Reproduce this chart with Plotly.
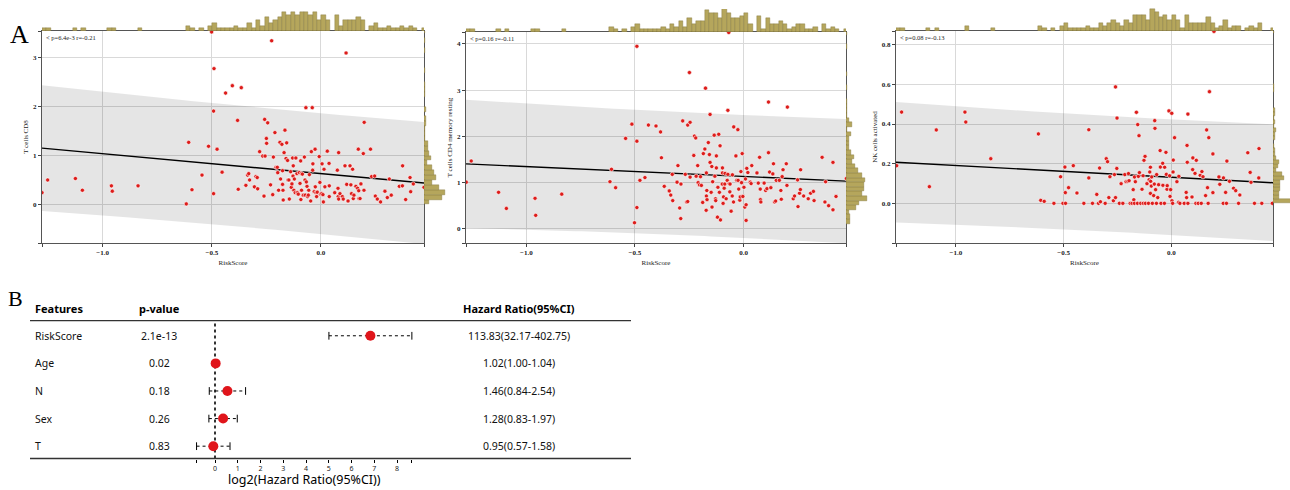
import numpy as np
import plotly.graph_objects as go

W, H = 1290, 490

# ---------------- data ----------------
cd8_risk = [-1.278, -1.252, -1.125, -1.093, -0.960, -0.956, -0.838, -0.617, -0.606, -0.591,
            -0.545, -0.515, -0.501, -0.490, -0.492, -0.492, -0.476, -0.453, -0.437, -0.406,
            -0.382, -0.379, -0.365, -0.344, -0.336, -0.331, -0.327, -0.305, -0.298, -0.292,
            -0.290, -0.281, -0.267, -0.261, -0.258, -0.256, -0.250, -0.249, -0.244, -0.231,
            -0.226, -0.218, -0.221, -0.211, -0.206, -0.200, -0.198, -0.194, -0.188, -0.185,
            -0.179, -0.176, -0.176, -0.174, -0.173, -0.169, -0.165, -0.160, -0.157, -0.153,
            -0.151, -0.147, -0.145, -0.139, -0.136, -0.133, -0.130, -0.128, -0.127, -0.124,
            -0.122, -0.118, -0.115, -0.110, -0.108, -0.104, -0.099, -0.096, -0.093, -0.092,
            -0.090, -0.089, -0.085, -0.081, -0.076, -0.073, -0.072, -0.069, -0.067, -0.064,
            -0.061, -0.058, -0.056, -0.053, -0.047, -0.044, -0.040, -0.038, -0.037, -0.031,
            -0.027, -0.026, -0.023, -0.020, -0.017, -0.008, -0.005, -0.002, 0.003, 0.005,
            0.009, 0.011, 0.014, 0.018, 0.029, 0.037, 0.038, 0.038, 0.063, 0.075,
            0.078, 0.079, 0.081, 0.081, 0.087, 0.098, 0.102, 0.110, 0.115, 0.118,
            0.124, 0.133, 0.137, 0.140, 0.145, 0.148, 0.151, 0.160, 0.168, 0.171,
            0.173, 0.174, 0.179, 0.183, 0.194, 0.198, 0.197, 0.227, 0.232, 0.246,
            0.249, 0.258, 0.273, 0.293, 0.304, 0.313, 0.322, 0.359, 0.373, 0.374,
            0.388, 0.408, 0.411, 0.423, 0.472]
cd8_value = [0.24, 0.50, 0.53, 0.29, 0.38, 0.27, 0.38, 0.01, 1.27, 0.30,
             0.60, 1.19, 3.53, 2.78, 1.91, 0.22, 1.13, 0.66, 2.28, 2.43,
             1.72, 0.31, 2.39, 0.39, 0.60, 0.63, 0.50, 0.36, 0.57, 0.55,
             0.32, 1.08, 0.99, 0.17, 1.74, 0.99, 1.35, 1.25, 1.67, 0.40,
             3.35, 0.97, 0.20, 1.47, 0.76, 0.76, 0.65, 0.29, 1.27, 0.52,
             1.23, 0.41, 0.69, 0.29, 0.09, 1.06, 1.52, 0.94, 1.26, 0.90,
             0.50, 0.50, 0.11, 0.67, 0.35, 0.42, 0.95, 0.58, 0.79, 0.29,
             0.52, 0.24, 0.95, 0.63, 0.24, 0.21, 0.65, 0.43, 0.89, 0.10,
             0.63, 0.29, 0.62, 0.19, 0.97, 0.50, 0.19, 1.98, 0.46, 0.37,
             0.16, 0.19, 0.29, 0.61, 0.07, 1.08, 1.98, 0.70, 0.83, 0.26,
             1.13, 0.36, 0.24, 0.16, 0.25, 0.98, 0.45, 0.21, 0.22, 0.83,
             0.20, 0.05, 0.72, 0.36, 1.09, 0.84, 0.38, 0.16, 0.24, 0.70,
             0.33, 0.16, 1.06, 0.11, 0.22, 0.16, 0.11, 0.79, 3.10, 0.41,
             0.07, 0.79, 0.40, 0.22, 0.72, 0.12, 0.19, 0.37, 0.33, 1.13,
             0.28, 0.12, 0.12, 0.42, 1.04, 1.68, 0.29, 1.13, 0.57, 0.58,
             0.17, 0.11, 0.05, 0.27, 0.14, 0.52, 0.19, 0.37, 0.38, 0.79,
             0.10, 0.55, 0.26, 0.42, 0.35]

cd4_risk = [-1.277, -1.254, -1.128, -1.092, -0.960, -0.957, -0.837, -0.615, -0.608, -0.589,
            -0.543, -0.514, -0.502, -0.491, -0.491, -0.491, -0.477, -0.454, -0.438, -0.403,
            -0.382, -0.378, -0.365, -0.342, -0.335, -0.328, -0.326, -0.306, -0.302, -0.294,
            -0.289, -0.288, -0.280, -0.268, -0.262, -0.257, -0.257, -0.249, -0.246, -0.246,
            -0.229, -0.226, -0.220, -0.218, -0.211, -0.209, -0.203, -0.198, -0.194, -0.188,
            -0.185, -0.178, -0.175, -0.172, -0.171, -0.171, -0.169, -0.168, -0.162, -0.157,
            -0.154, -0.154, -0.149, -0.146, -0.145, -0.142, -0.135, -0.132, -0.129, -0.128,
            -0.125, -0.125, -0.120, -0.118, -0.114, -0.111, -0.108, -0.106, -0.098, -0.097,
            -0.097, -0.094, -0.092, -0.089, -0.086, -0.085, -0.080, -0.075, -0.072, -0.072,
            -0.068, -0.066, -0.063, -0.062, -0.057, -0.052, -0.051, -0.046, -0.045, -0.035,
            -0.031, -0.026, -0.025, -0.022, -0.017, -0.015, -0.012, -0.009, -0.006, -0.003,
            0.002, 0.006, 0.009, 0.012, 0.012, 0.015, 0.020, 0.031, 0.035, 0.038,
            0.062, 0.068, 0.074, 0.077, 0.078, 0.080, 0.095, 0.102, 0.108, 0.115,
            0.115, 0.120, 0.126, 0.135, 0.138, 0.143, 0.148, 0.151, 0.165, 0.172,
            0.174, 0.178, 0.182, 0.197, 0.200, 0.202, 0.229, 0.235, 0.249, 0.251,
            0.258, 0.263, 0.262, 0.277, 0.298, 0.309, 0.322, 0.325, 0.362, 0.375,
            0.378, 0.392, 0.412, 0.412, 0.426, 0.474]
cd4_value = [1.00, 1.46, 0.78, 0.43, 0.65, 0.28, 0.74, 1.01, 1.28, 0.88,
             1.95, 2.26, 0.12, 3.95, 1.89, 0.45, 1.04, 1.10, 2.24, 2.22,
             2.09, 1.53, 0.91, 0.81, 0.72, 1.17, 0.60, 1.00, 1.36, 0.44,
             0.21, 0.96, 2.33, 1.17, 0.57, 2.24, 0.58, 3.38, 2.30, 1.11,
             1.58, 2.00, 1.96, 1.13, 1.36, 0.99, 0.94, 1.12, 0.93, 0.56,
             1.62, 1.72, 3.04, 0.39, 1.20, 0.70, 0.82, 0.62, 1.86, 1.60,
             2.47, 1.43, 0.78, 1.34, 0.46, 1.01, 2.02, 1.13, 0.64, 0.60,
             1.31, 1.57, 0.24, 0.89, 2.04, 0.78, 1.79, 0.18, 0.96, 1.20,
             1.31, 0.54, 0.68, 0.87, 0.96, 1.19, 0.64, 1.04, 1.17, 2.56,
             4.25, 0.97, 0.79, 0.96, 0.37, 0.70, 1.16, 0.57, 2.20, 1.57,
             1.04, 2.14, 1.04, 0.85, 0.61, 0.68, 1.23, 0.99, 1.62, 0.69,
             0.89, 0.46, 1.07, 0.51, 0.17, 1.30, 1.21, 1.00, 0.97, 1.36,
             1.20, 0.98, 1.54, 0.85, 0.62, 0.57, 0.98, 0.82, 0.86, 2.74,
             1.64, 1.22, 0.88, 1.18, 1.40, 0.57, 0.59, 1.04, 1.04, 0.82,
             0.63, 1.12, 1.27, 1.40, 0.93, 2.63, 0.64, 0.70, 1.05, 0.47,
             0.76, 1.27, 0.84, 0.70, 0.64, 0.76, 0.80, 0.60, 1.54, 0.57,
             1.01, 0.49, 1.43, 0.40, 0.69, 1.08]

nk_risk = [-1.275, -1.252, -1.123, -1.091, -0.958, -0.954, -0.838, -0.617, -0.606, -0.590,
           -0.545, -0.514, -0.503, -0.494, -0.492, -0.491, -0.477, -0.455, -0.438, -0.406,
           -0.383, -0.383, -0.366, -0.346, -0.338, -0.333, -0.329, -0.307, -0.302, -0.296,
           -0.290, -0.285, -0.269, -0.264, -0.259, -0.259, -0.253, -0.252, -0.241, -0.233,
           -0.225, -0.216, -0.210, -0.202, -0.199, -0.196, -0.191, -0.182, -0.177, -0.174,
           -0.171, -0.171, -0.167, -0.162, -0.157, -0.156, -0.153, -0.150, -0.148, -0.142,
           -0.136, -0.131, -0.130, -0.127, -0.122, -0.120, -0.113, -0.106, -0.103, -0.100,
           -0.097, -0.097, -0.096, -0.093, -0.091, -0.088, -0.082, -0.079, -0.077, -0.076,
           -0.073, -0.069, -0.068, -0.063, -0.059, -0.052, -0.051, -0.048, -0.040, -0.039,
           -0.032, -0.031, -0.025, -0.023, -0.020, -0.019, -0.011, -0.008, -0.006, -0.003,
           0.002, 0.003, 0.006, 0.008, 0.009, 0.015, 0.026, 0.034, 0.035, 0.040,
           0.060, 0.069, 0.071, 0.073, 0.074, 0.077, 0.077, 0.096, 0.099, 0.100,
           0.110, 0.114, 0.116, 0.125, 0.134, 0.139, 0.142, 0.147, 0.159, 0.164,
           0.168, 0.171, 0.174, 0.177, 0.193, 0.193, 0.198, 0.221, 0.225, 0.241,
           0.242, 0.252, 0.256, 0.258, 0.270, 0.289, 0.299, 0.312, 0.318, 0.355,
           0.366, 0.370, 0.386, 0.406, 0.407, 0.420, 0.469]
nk_value = [0.190, 0.460, 0.084, 0.370, 0.460, 0.410, 0.225, 0.350, 0.015, 0.010,
            0.000, 0.134, 0.000, 0.183, 0.054, 0.000, 0.079, 0.190, 0.052, 0.000,
            0.371, 0.128, 0.000, 0.045, 0.000, 0.178, 0.008, 0.000, 0.225, 0.210,
            0.029, 0.134, 0.013, 0.145, 0.587, 0.029, 0.176, 0.430, 0.000, 0.099,
            0.000, 0.145, 0.109, 0.111, 0.150, 0.114, 0.000, 0.000, 0.069, 0.018,
            0.000, 0.133, 0.109, 0.459, 0.000, 0.397, 0.136, 0.341, 0.155, 0.000,
            0.071, 0.139, 0.000, 0.217, 0.237, 0.000, 0.099, 0.000, 0.119, 0.158,
            0.182, 0.050, 0.111, 0.087, 0.133, 0.000, 0.039, 0.097, 0.417, 0.378,
            0.069, 0.000, 0.145, 0.029, 0.094, 0.266, 0.183, 0.000, 0.202, 0.091,
            0.000, 0.182, 0.257, 0.146, 0.071, 0.089, 0.466, 0.139, 0.035, 0.069,
            0.454, 0.013, 0.000, 0.158, 0.218, 0.331, 0.109, 0.005, 0.136, 0.000,
            0.000, 0.055, 0.029, 0.292, 0.207, 0.000, 0.450, 0.032, 0.170, 0.229,
            0.151, 0.000, 0.217, 0.000, 0.141, 0.000, 0.160, 0.134, 0.039, 0.370,
            0.079, 0.000, 0.331, 0.563, 0.249, 0.054, 0.867, 0.133, 0.096, 0.000,
            0.128, 0.055, 0.000, 0.213, 0.111, 0.076, 0.064, 0.000, 0.042, 0.255,
            0.156, 0.106, 0.000, 0.128, 0.276, 0.000, 0.000]

cell_types = ["T cells CD8", "T cells CD4 memory resting", "NK cells activated"]
cor_labels = ["< p=6.4e-3 r=-0.21", "< p=0.16 r=-0.11", "< p=0.08 r=-0.13"]
x_ticks = [-1.0, -0.5, 0.0]
y_ticks = [[0, 1, 2, 3], [0, 1, 2, 3, 4], [0.0, 0.2, 0.4, 0.6, 0.8]]

features = ["RiskScore", "Age", "N", "Sex", "T"]
p_values = ["2.1e-13", "0.02", "0.18", "0.26", "0.83"]
hazard_ratio = [113.83, 1.02, 1.46, 1.28, 0.95]
hr_lower = [32.17, 1.00, 0.84, 0.83, 0.57]
hr_upper = [402.75, 1.04, 2.54, 1.97, 1.58]
forest_ticks = [0, 1, 2, 3, 4, 5, 6, 7, 8]
forest_headers = ["Features", "p-value", "Hazard Ratio(95%CI)"]

# ---------------- layout helpers ----------------
def px(xp):
    return xp / W


def py(yp):
    return 1 - yp / H


SERIF = "Liberation Serif"
SANS = "Noto Sans"
HIST_FILL = "#b5a65c"
HIST_LINE = "#80733a"
POINT = "#dd1c1a"

series = [(cd8_risk, cd8_value), (cd4_risk, cd4_value), (nk_risk, nk_value)]
panels = [
    dict(x0=42, x1=424, y0=31, y1=243, yr=[-0.79, 3.55], ybin=0.1, rh_dom=24, rh_max=22, yfmt=None),
    dict(x0=466, x1=846, y0=32, y1=243, yr=[-0.32, 4.26], ybin=0.1, rh_dom=24, rh_max=22, yfmt=None),
    dict(x0=896, x1=1273, y0=31, y1=243, yr=[-0.20, 0.869], ybin=0.02, rh_dom=17, rh_max=34, yfmt=".1f"),
]
XR = [-1.278, 0.472]
XBIN = 0.02

fig = go.Figure()
layout = dict(width=W, height=H, margin=dict(l=0, r=0, t=0, b=0),
              paper_bgcolor="white", plot_bgcolor="white", showlegend=False)
annotations = []
shapes = []

for i, (p, (xs, ys), name, lab, yt) in enumerate(zip(panels, series, cell_types, cor_labels, y_ticks)):
    xs = np.asarray(xs, float)
    ys = np.asarray(ys, float)
    a_main, a_top, a_right = 3 * i + 1, 3 * i + 2, 3 * i + 3

    # regression and 95% prediction band
    n = len(xs)
    b1, b0 = np.polyfit(xs, ys, 1)
    resid = ys - (b0 + b1 * xs)
    s = np.sqrt(np.sum(resid ** 2) / (n - 2))
    xbar = xs.mean()
    sxx = np.sum((xs - xbar) ** 2)
    xg = np.linspace(XR[0], XR[1], 60)
    yhat = b0 + b1 * xg
    half = 1.975 * s * np.sqrt(1 + 1 / n + (xg - xbar) ** 2 / sxx)
    up, lo = yhat + half, yhat - half

    xa, ya = f"x{a_main}", f"y{a_main}"
    fig.add_trace(go.Scatter(x=np.concatenate([xg, xg[::-1]]), y=np.concatenate([up, lo[::-1]]),
                             fill="toself", fillcolor="rgba(0,0,0,0.10)", line=dict(width=0),
                             mode="lines", hoverinfo="skip", xaxis=xa, yaxis=ya))
    fig.add_trace(go.Scatter(x=xg, y=yhat, mode="lines", line=dict(color="black", width=1.4),
                             xaxis=xa, yaxis=ya))
    fig.add_trace(go.Scatter(x=xs, y=ys, mode="markers",
                             marker=dict(color=POINT, size=4.2, line=dict(color="white", width=0.6)),
                             xaxis=xa, yaxis=ya))

    # top histogram (risk score)
    edges = np.arange(XR[0], XR[1] + XBIN, XBIN)
    cnt, _ = np.histogram(xs, bins=edges)
    top_dom_px = 23
    fig.add_trace(go.Histogram(x=xs, xbins=dict(start=XR[0], end=XR[1] + XBIN, size=XBIN),
                               marker=dict(color=HIST_FILL, line=dict(color=HIST_LINE, width=0.4)),
                               xaxis=f"x{a_top}", yaxis=f"y{a_top}"))
    # right histogram (cell value)
    yedges = np.arange(0, ys.max() + p["ybin"], p["ybin"])
    ycnt, _ = np.histogram(ys, bins=yedges)
    fig.add_trace(go.Histogram(y=ys, ybins=dict(start=0, end=ys.max() + p["ybin"], size=p["ybin"]),
                               marker=dict(color=HIST_FILL, line=dict(color=HIST_LINE, width=0.4)),
                               xaxis=f"x{a_right}", yaxis=f"y{a_right}"))

    xdom = [px(p["x0"]), px(p["x1"])]
    ydom = [py(p["y1"]), py(p["y0"])]
    tickfont = dict(family=SERIF, size=7, color="#222", weight="bold")
    sfx = "" if a_main == 1 else str(a_main)
    layout[f"xaxis{sfx}"] = dict(
        domain=xdom, range=XR, anchor=ya, showgrid=True, gridcolor="#d9d9d9", gridwidth=1,
        zeroline=False, showline=True, mirror=True, linecolor="#555", linewidth=1,
        tickvals=[XR[0]] + x_ticks + [XR[1]], ticktext=[""] + [f"{v:.1f}".replace("-", "\u2212") for v in x_ticks] + [""],
        ticks="outside", ticklen=3, tickcolor="#444", tickfont=tickfont,
        title=dict(text="RiskScore", font=dict(family=SERIF, size=7, color="#222"), standoff=3))
    ytext = [(f"{v:{p['yfmt']}}" if p["yfmt"] else str(v)) for v in yt]
    layout[f"yaxis{sfx}"] = dict(
        domain=ydom, range=p["yr"], anchor=xa, showgrid=True, gridcolor="#d9d9d9", gridwidth=1,
        zeroline=False, showline=True, mirror=True, linecolor="#555", linewidth=1,
        tickvals=[p["yr"][0]] + list(yt) + [p["yr"][1]], ticktext=[""] + ytext + [""],
        ticks="outside", ticklen=3, tickcolor="#444", tickfont=tickfont,
        title=dict(text=name, font=dict(family=SERIF, size=7, color="#222"), standoff=3))
    # top hist axes
    layout[f"xaxis{a_top}"] = dict(domain=xdom, range=XR, anchor=f"y{a_top}", visible=False)
    layout[f"yaxis{a_top}"] = dict(domain=[py(p["y0"]), py(p["y0"] - top_dom_px)],
                                   range=[0, cnt.max() * top_dom_px / 22.0], anchor=f"x{a_top}", visible=False)
    # right hist axes
    rx1 = min(p["x1"] + p["rh_dom"], W)
    layout[f"xaxis{a_right}"] = dict(domain=[px(p["x1"]), px(rx1)],
                                     range=[0, ycnt.max() * (rx1 - p["x1"]) / p["rh_max"]],
                                     anchor=f"y{a_right}", visible=False)
    layout[f"yaxis{a_right}"] = dict(domain=ydom, range=p["yr"], anchor=f"x{a_right}", visible=False)

    annotations.append(dict(text=lab, x=px(p["x0"] + 2), y=py(p["y0"] + 6), xref="paper", yref="paper",
                            xanchor="left", yanchor="middle", showarrow=False,
                            font=dict(family=SERIF, size=6.5, color="#222")))

# ---------------- forest plot ----------------
log_hr = np.log2(hazard_ratio)
log_lo = np.log2(hr_lower)
log_hi = np.log2(hr_upper)
rows = np.arange(len(features), 0, -1)  # 5..1

unit = 22.75
zero_px = 215
fx0, fx1 = 180, 420
f_xr = [(fx0 - zero_px) / unit, (fx1 - zero_px) / unit]
f_ytop, f_ybot = 320.7, 458.5
row_px = 28.0
f_yr = [1 - (f_ybot - 446) / row_px, 5 + (336 - f_ytop) / row_px]

# zero line
fig.add_trace(go.Scatter(x=[0, 0], y=f_yr, mode="lines", line=dict(color="black", width=1.6, dash="dot"),
                         xaxis="x10", yaxis="y10"))
# CI lines
ci_x, ci_y, cap_x, cap_y = [], [], [], []
for lo_, hi_, r in zip(log_lo, log_hi, rows):
    ci_x += [lo_, hi_, None]
    ci_y += [r, r, None]
    for v in (lo_, hi_):
        cap_x += [v, v, None]
        cap_y += [r - 0.14, r + 0.14, None]
fig.add_trace(go.Scatter(x=ci_x, y=ci_y, mode="lines", line=dict(color="black", width=1, dash="dot"),
                         xaxis="x10", yaxis="y10"))
fig.add_trace(go.Scatter(x=cap_x, y=cap_y, mode="lines", line=dict(color="black", width=1),
                         xaxis="x10", yaxis="y10"))
fig.add_trace(go.Scatter(x=log_hr, y=rows, mode="markers", marker=dict(color="#e0151b", size=10),
                         xaxis="x10", yaxis="y10", cliponaxis=False))

layout["xaxis10"] = dict(domain=[px(fx0), px(fx1)], range=f_xr, anchor="y10", showgrid=False, zeroline=False,
                         showline=False, ticks="outside", ticklen=3, tickcolor="black", tickwidth=1,
                         tickvals=[float(log_lo.min())] + forest_ticks + [float(log_hi.max())],
                         ticktext=[""] + [str(t) for t in forest_ticks] + [""],
                         tickfont=dict(family=SANS, size=7, color="#222"))
layout["yaxis10"] = dict(domain=[py(f_ybot), py(f_ytop)], range=f_yr, anchor="x10", visible=False)

left_col, p_col, hr_col = 33, 159, 519
head_font = dict(family=SANS, size=11, color="black", weight="bold")
cell_font = dict(family=SANS, size=10.5, color="#111")
for txt, xx, anc in zip(forest_headers, (left_col, p_col, hr_col), ("left", "center", "center")):
    annotations.append(dict(text=txt, x=px(xx), y=py(308), xref="paper", yref="paper", xanchor=anc,
                            yanchor="middle", showarrow=False, font=head_font))
for f, pv, h, l, u, r in zip(features, p_values, hazard_ratio, hr_lower, hr_upper, rows):
    annotations.append(dict(text=f, x=px(left_col), y=r, xref="paper", yref="y10", xanchor="left",
                            yanchor="middle", showarrow=False, font=cell_font))
    annotations.append(dict(text=pv, x=px(p_col), y=r, xref="paper", yref="y10", xanchor="center",
                            yanchor="middle", showarrow=False, font=cell_font))
    annotations.append(dict(text=f"{h:.2f}({l:.2f}-{u:.2f})", x=px(hr_col), y=r, xref="paper", yref="y10",
                            xanchor="center", yanchor="middle", showarrow=False, font=cell_font))
annotations.append(dict(text="log2(Hazard Ratio(95%CI))", x=px(304), y=py(490), xref="paper", yref="paper",
                        xanchor="center", yanchor="bottom", showarrow=False,
                        font=dict(family=SANS, size=12.5, color="black")))

for yy in (f_ytop, f_ybot):
    shapes.append(dict(type="line", xref="paper", yref="paper", x0=px(30), x1=px(631), y0=py(yy), y1=py(yy),
                       line=dict(color="#333", width=1.3)))

# panel letters
annotations.append(dict(text="A", x=px(19), y=py(35), xref="paper", yref="paper", xanchor="center",
                        yanchor="middle", showarrow=False, font=dict(family=SERIF, size=26, color="black")))
annotations.append(dict(text="B", x=px(15), y=py(298), xref="paper", yref="paper", xanchor="center",
                        yanchor="middle", showarrow=False, font=dict(family=SERIF, size=22, color="black")))

layout["annotations"] = annotations
layout["shapes"] = shapes
layout["bargap"] = 0
fig.update_layout(**layout)
fig.write_html("out.html")
